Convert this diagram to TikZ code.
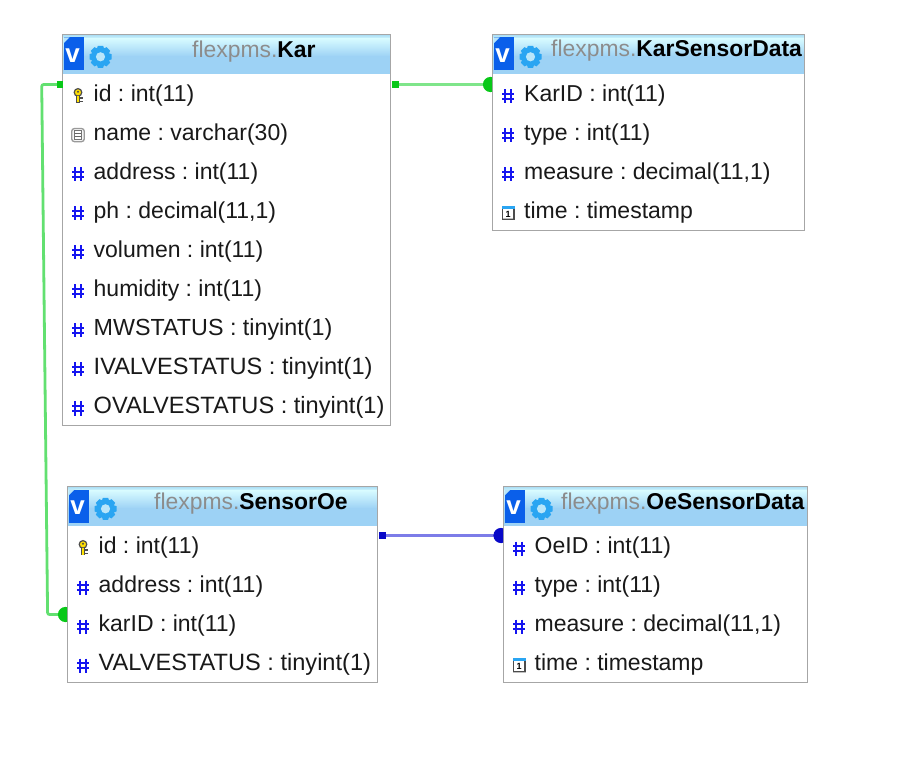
\documentclass[tikz,border=0pt]{standalone}
\usepackage{fontspec}
\setmainfont{Liberation Sans}
\frenchspacing
\usetikzlibrary{calc}
\definecolor{hdedge}{HTML}{A8DCF4}
\definecolor{hdtop}{HTML}{D6FAFF}
\definecolor{hdbot}{HTML}{9DD2F5}
\definecolor{bd}{HTML}{A6A6A6}
\definecolor{vblue}{HTML}{0A5FEA}
\definecolor{gear}{HTML}{2AA5F2}
\definecolor{hashb}{HTML}{1414F0}
\definecolor{lgreen}{HTML}{7FE58A}
\definecolor{mgreen}{HTML}{62E070}
\definecolor{dgreen}{HTML}{08C818}
\definecolor{lblue}{HTML}{7C7CE8}
\definecolor{dblue}{HTML}{0808C8}
\tikzset{x=1pt,y=-1pt,
 tablebox/.style={fill=white,inner sep=0pt,anchor=north west},
 rowtext/.style={anchor=base west,inner sep=0pt,yshift=-8.3pt,font=\fontsize{23}{26}\selectfont,text=black!90},
 capsrow/.style={rowtext,font=\fontsize{23.6}{26}\selectfont},
 mwrow/.style={rowtext,font=\fontsize{23.3}{26}\selectfont},
 titletext/.style={anchor=base west,inner sep=0pt,font=\fontsize{22.9}{25}\selectfont},
 linkg/.style={draw=lgreen,line width=3pt},
 linkl/.style={draw=mgreen,line width=2.8pt},
 linkb/.style={draw=lblue,line width=3pt}}
% icons
\newcommand{\hashicon}[2]{%
 \begin{scope}[shift={(#1,#2)}]
  \draw[hashb,line width=1.9pt] (-2.8,-7)--(-2.8,7) (2.8,-7)--(2.8,7) (-6,-2.7)--(6,-2.7) (-6,2.7)--(6,2.7);
 \end{scope}}
\newcommand{\keyicon}[2]{%
 \begin{scope}[shift={(#1,#2)}]
  \draw[black!70,fill=yellow!80!orange,line width=1.2pt] (0,-3.6) circle (3.8);
  \fill[black!70] (0,-4.2) circle (1.1);
  \draw[black!70,line width=3.6pt] (0,-.2)--(0,7);
  \draw[yellow!85!orange,line width=1.6pt] (0,-.2)--(0,6.5);
  \draw[black!70,line width=1.6pt] (1,2.2)--(4.6,2.2) (1,5.4)--(4.6,5.4);
 \end{scope}}
\newcommand{\texticon}[2]{%
 \begin{scope}[shift={(#1,#2)}]
  \draw[black!40,fill=black!4,line width=1.3pt,rounded corners=2.8pt] (-6.3,-6.5) rectangle (6.3,6.7);
  \draw[black!55,fill=white,line width=.8pt] (-3.4,-4.4) rectangle (3.4,4.6);
  \draw[black!60,line width=.8pt] (-3.4,-1.5)--(3.4,-1.5) (-3.4,1.5)--(3.4,1.5);
 \end{scope}}
\newcommand{\timeicon}[2]{%
 \begin{scope}[shift={(#1,#2)}]
  \fill[black!25] (-6.5,-6.5) rectangle (6.8,7.5);
  \fill[white] (-5.5,-4) rectangle (5,5.5);
  \draw[black!70,line width=1.4pt] (-5.6,-4) -- (-5.6,6.4) -- (5.8,6.4) -- (5.8,-4);
  \fill[gear] (-6.5,-7) rectangle (6.8,-3.6);
  \node[inner sep=0pt,font=\fontsize{9}{9}\bfseries\selectfont] at (0.2,1.4) {1};
 \end{scope}}
\newcommand{\tablehead}[3]{% x1,y1,x2
 \shade[top color=hdedge,bottom color=hdtop] (#1,#2) rectangle (#3,#2+4.5);
 \shade[top color=hdtop,bottom color=hdbot] (#1,#2+4.4) rectangle (#3,#2+22);
 \fill[hdbot] (#1,#2+21.9) rectangle (#3,#2+39.3);
 \fill[vblue] (#1+1,#2+3) -- (#1+21,#2+3) -- (#1+21,#2+36) -- (#1+1,#2+36) -- cycle;
 \fill[hdtop!45!hdbot] (#1+1,#2+3) -- (#1+7,#2+3) -- (#1+1,#2+9) -- cycle;
 \node[inner sep=0pt,text=white,font=\fontsize{26}{27}\bfseries\selectfont] at (#1+10.2,#2+21.5) {v};
 \begin{scope}[shift={(#1+38,#2+22.3)}]
  \foreach \a in {0,45,...,315} {\fill[gear,rotate=\a] (-2.6,-11) -- (2.6,-11) -- (4,-7) -- (-4,-7) -- cycle;}
  \fill[gear] (0,0) circle (8.6);
  \fill[hdtop!50!hdbot] (0,0) circle (4.6);
 \end{scope}
}
\begin{document}
\begin{tikzpicture}
\useasboundingbox (0,0) rectangle (898,762);
\fill[white] (0,0) rectangle (898,762);
% Tables
\node[tablebox,minimum width=328pt,minimum height=391pt] (kar) at (62.5,34.5) {};
\node[tablebox,minimum width=312pt,minimum height=196pt] (karsd) at (492.5,34.5) {};
\node[tablebox,minimum width=310pt,minimum height=196pt] (soe) at (67.5,486.5) {};
\node[tablebox,minimum width=304pt,minimum height=196pt] (oesd) at (503.5,486.5) {};
\tablehead{62.5}{34.5}{390.5}
\tablehead{492.5}{34.5}{804.5}
\tablehead{67.5}{486.5}{377.5}
\tablehead{503.5}{486.5}{807.5}
\draw[bd,line width=.9pt] (62.5,34.5) rectangle (390.5,425.5) (492.5,34.5) rectangle (804.5,230.5) (67.5,486.5) rectangle (377.5,682.5) (503.5,486.5) rectangle (807.5,682.5);
% Titles
\node[titletext] (t1) at (192,57.5) {\textcolor{black!45}{flexpms.}\textbf{Kar}};
\node[titletext] (t2) at (551,57) {\textcolor{black!45}{flexpms.}\textbf{KarSensorData}};
\node[titletext] (t3) at (154,509) {\textcolor{black!45}{flexpms.}\textbf{SensorOe}};
\node[titletext] (t4) at (561,509) {\textcolor{black!45}{flexpms.}\textbf{OeSensorData}};
% Kar rows
\keyicon{78}{96}\node[rowtext] (k1) at (93.5,93) {id : int(11)};
\texticon{78}{135}\node[rowtext] (k2) at (93.5,132) {name : varchar(30)};
\hashicon{78}{174.5}\node[rowtext] (k3) at (93.5,171) {address : int(11)};
\hashicon{78}{213.5}\node[rowtext] (k4) at (93.5,210) {ph : decimal(11,1)};
\hashicon{78}{252.5}\node[rowtext] (k5) at (93.5,249) {volumen : int(11)};
\hashicon{78}{291.5}\node[rowtext] (k6) at (93.5,288) {humidity : int(11)};
\hashicon{78}{330.5}\node[mwrow] (k7) at (93.5,327) {MWSTATUS : tinyint(1)};
\hashicon{78}{369.5}\node[capsrow] (k8) at (93.5,366) {IVALVESTATUS : tinyint(1)};
\hashicon{78}{408.5}\node[capsrow] (k9) at (93.5,405) {OVALVESTATUS : tinyint(1)};
% KarSensorData rows
\hashicon{508}{96.5}\node[rowtext] (a1) at (524,93) {KarID : int(11)};
\hashicon{508}{135.5}\node[rowtext] (a2) at (524,132) {type : int(11)};
\hashicon{508}{174.5}\node[rowtext] (a3) at (524,171) {measure : decimal(11,1)};
\timeicon{508}{213}\node[rowtext] (a4) at (524,210) {time : timestamp};
% SensorOe rows
\keyicon{83}{548}\node[rowtext] (s1) at (98.5,545) {id : int(11)};
\hashicon{83}{587.5}\node[rowtext] (s2) at (98.5,584) {address : int(11)};
\hashicon{83}{626.5}\node[rowtext] (s3) at (98.5,623) {karID : int(11)};
\hashicon{83}{665.5}\node[capsrow] (s4) at (98.5,662) {VALVESTATUS : tinyint(1)};
% OeSensorData rows
\hashicon{519}{548.5}\node[rowtext] (o1) at (534.5,545) {OeID : int(11)};
\hashicon{519}{587.5}\node[rowtext] (o2) at (534.5,584) {type : int(11)};
\hashicon{519}{626.5}\node[rowtext] (o3) at (534.5,623) {measure : decimal(11,1)};
\timeicon{519}{665}\node[rowtext] (o4) at (534.5,662) {time : timestamp};
% Connector anchors
\coordinate (c1a) at (61,84.5);
\coordinate (c1b) at (65,614.5);
\coordinate (c2a) at (394,84.5);
\coordinate (c2b) at (490,84.5);
\coordinate (c3a) at (381,535.5);
\coordinate (c3b) at (501,535.5);
% Connectors
\draw[linkl,rounded corners=2pt] (c1a) -- (41.7,84.5) -- (47.6,614.5) -- (c1b);
\draw[linkg] (c2a) -- (c2b);
\draw[linkb] (c3a) -- (c3b);
\begin{scope}
\clip (480,70) rectangle (492,100) (55,600) rectangle (67,630) (490,520) rectangle (503,550);
\fill[dgreen] (490.5,84.5) circle (7.6);
\fill[dgreen] (65.5,614.5) circle (7.6);
\fill[dblue] (501,535.5) circle (7.6);
\end{scope}
\fill[dgreen] (57,81) rectangle (63,88);
\fill[dgreen] (391.7,81) rectangle (398.7,88);
\fill[dblue] (379,532) rectangle (386,539);
\end{tikzpicture}
\end{document}
